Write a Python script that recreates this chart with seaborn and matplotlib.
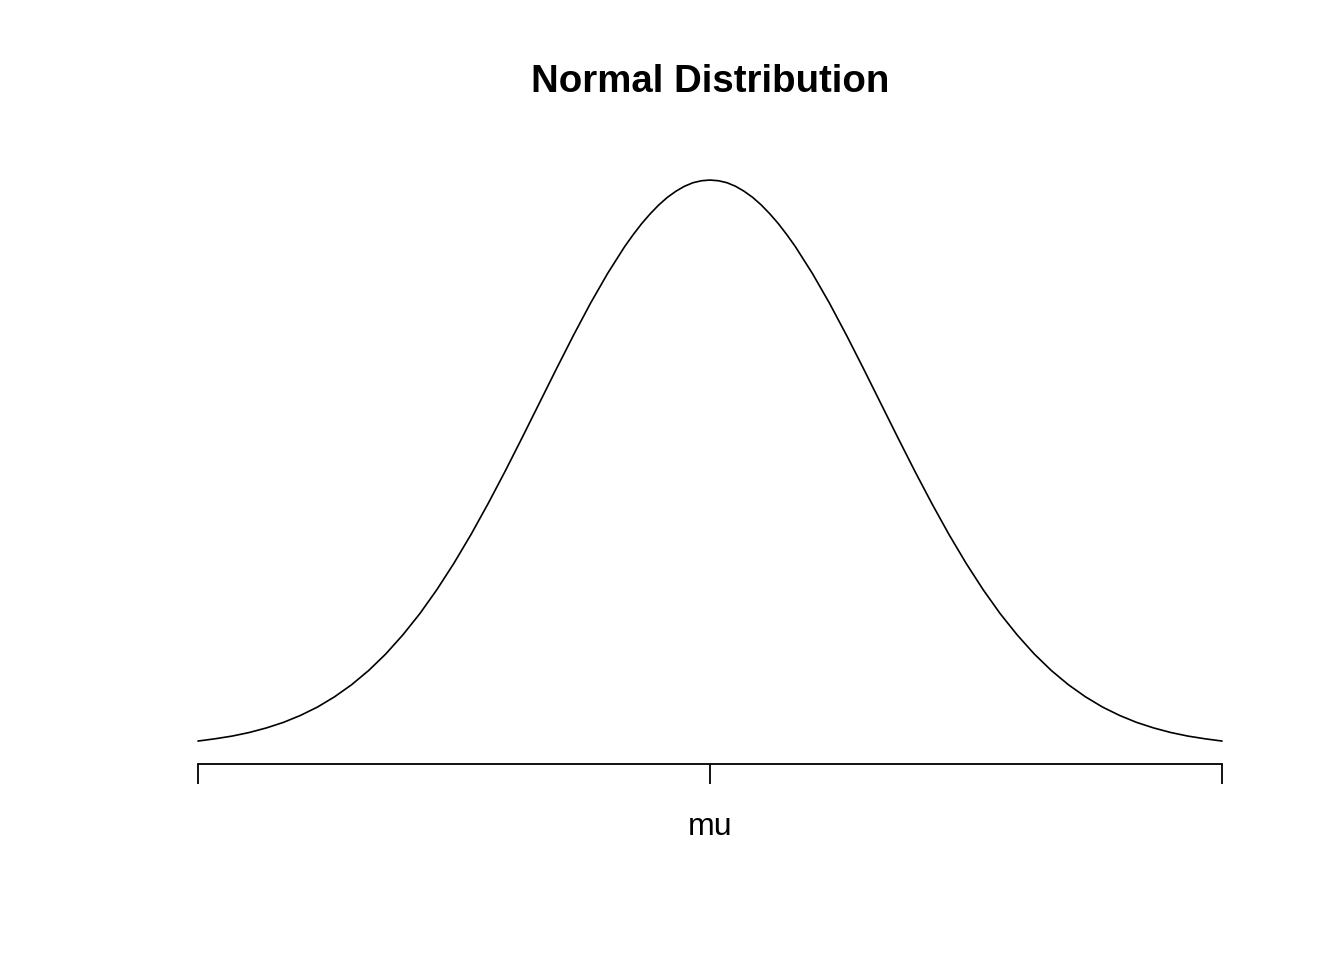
import numpy as np
import pandas as pd
import matplotlib
matplotlib.use("Agg")
import matplotlib.pyplot as plt
import seaborn as sns

# density (right half, mirrored for the left half)
x_right = [0.0, 0.05, 0.1, 0.15, 0.2, 0.25, 0.3, 0.35, 0.4, 0.45, 0.5,
           0.6, 0.7, 0.8, 0.9, 1.0, 1.1, 1.2, 1.3, 1.4, 1.5, 1.6, 1.7, 1.8,
           1.9, 2.0, 2.1, 2.2, 2.3, 2.4, 2.5, 2.6, 2.7, 2.8, 2.9, 3.0]
y_right = [0.3989, 0.3984, 0.3970, 0.3945, 0.3910, 0.3867, 0.3814, 0.3752,
           0.3683, 0.3605, 0.3521, 0.3332, 0.3123, 0.2897, 0.2661, 0.2420,
           0.2179, 0.1942, 0.1714, 0.1497, 0.1295, 0.1109, 0.0940, 0.0790,
           0.0656, 0.0540, 0.0440, 0.0355, 0.0283, 0.0224, 0.0175, 0.0136,
           0.0104, 0.0079, 0.0060, 0.0044]
x_vals = [-v for v in x_right[:0:-1]] + x_right
density = y_right[:0:-1] + y_right
tick_pos = [-3, 0, 3]
tick_labels = ["", "mu", ""]
title = "Normal Distribution"

df = pd.DataFrame({"x": x_vals, "y": density})

sns.set_style("white")
plt.rcParams["font.family"] = ["Liberation Sans", "DejaVu Sans"]

fig = plt.figure(figsize=(13.44, 9.6), dpi=100)
ax = fig.add_axes([157 / 1344, 1 - 763.5 / 960, (1263 - 157) / 1344, (763.5 - 157.6) / 960])

sns.lineplot(data=df, x="x", y="y", ax=ax, color="black", linewidth=1.2,
             solid_joinstyle="round")

ymin, ymax = min(density), max(density)
pad = 0.04 * (ymax - ymin)
ax.set_xlim(-3.24, 3.24)
ax.set_ylim(ymin - pad, ymax + pad)

for s in ["top", "left", "right"]:
    ax.spines[s].set_visible(False)
ax.spines["bottom"].set_bounds(-3, 3)
ax.spines["bottom"].set_linewidth(1.3)
ax.spines["bottom"].set_color("black")
ax.set_yticks([])
ax.set_xticks(tick_pos)
ax.set_xticklabels(tick_labels, fontsize=23, color="black")
ax.tick_params(axis="x", direction="out", length=14.4, width=1.3, color="black", pad=20.5, bottom=True)
ax.set_xlabel("")
ax.set_ylabel("")

fig.text(710 / 1344, 1 - 82 / 960, title, ha="center", va="center", fontsize=27.6,
         fontweight="bold", color="black")

fig.savefig("out.png", dpi=100)
